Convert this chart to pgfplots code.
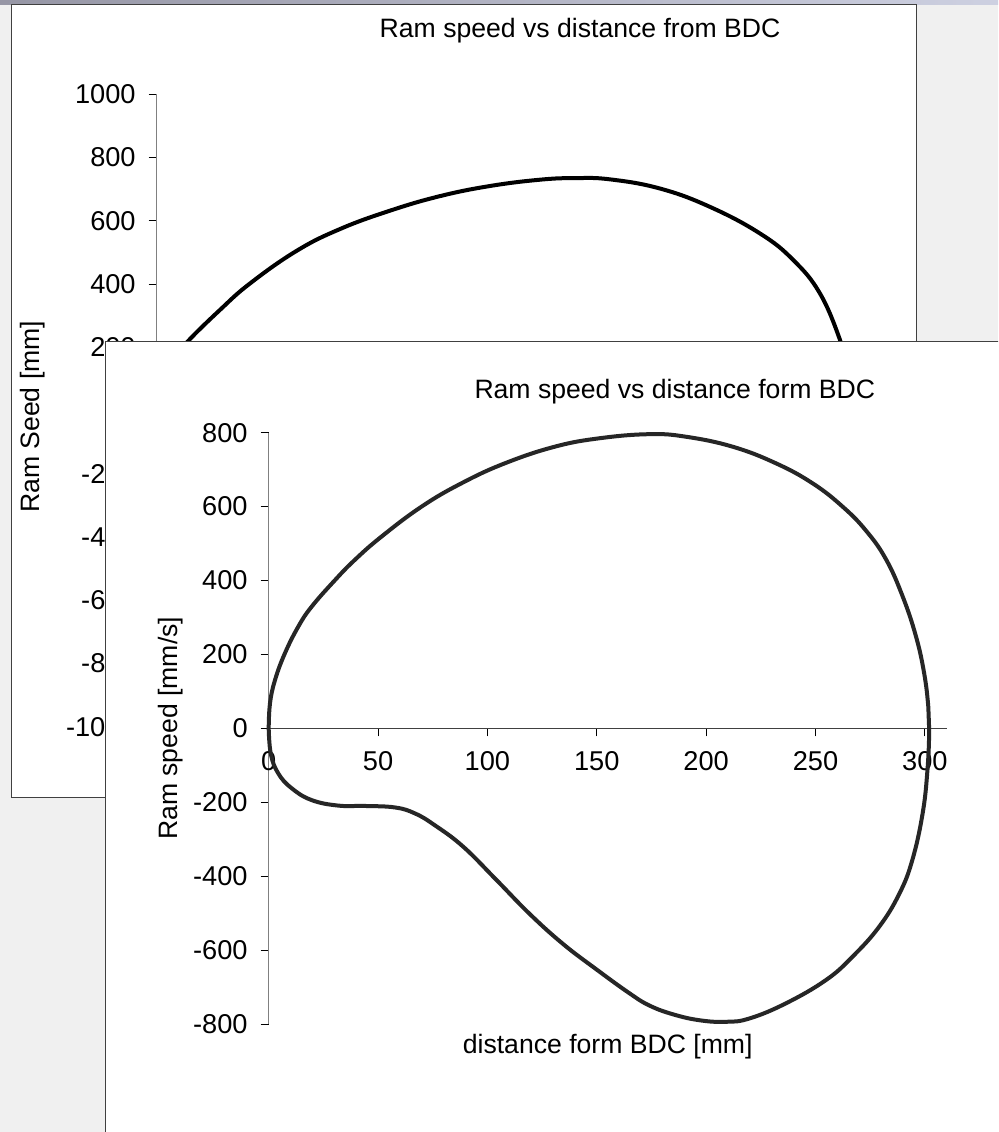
\documentclass[border=0pt]{standalone}
\usepackage{fontspec}
\setmainfont{Liberation Sans}
\usepackage{pgfplots}
\pgfplotsset{compat=1.18}

\definecolor{bggray}{HTML}{F0F0F0}
\definecolor{framegray}{HTML}{404040}
\definecolor{axisgray}{HTML}{808080}
\definecolor{curvefront}{HTML}{262626}

% back chart, only the part above the front window is visible
\pgfplotstableread{
x y
10.0 180
14.0 220
28.1 318
41.5 402
62.2 505
81.5 574
103.7 632
125.9 678
148.1 710
170.4 730
186.0 735
201.5 731
223.7 702
245.9 644
268.1 560
282.9 476
294.8 370
303.7 223
306.0 150
}\backdata

% front chart: closed loop, ram speed vs distance
\pgfplotstableread{
x y
0.0 0
0.6 68
2.9 131
7.4 203
13.5 275
19.6 329
30.3 401
39.4 456
51.6 519
69.9 600
88.1 663
107.9 717
130.7 762
151.3 785
174.1 796
190.9 789
212.2 762
232.0 717
248.7 663
262.4 600
273.1 535
282.2 458
289.8 358
295.9 250
299.7 149
301.6 58
302.0 -5
301.2 -113
299.0 -230
294.3 -356
288.3 -448
279.1 -537
266.9 -618
254.8 -681
236.5 -744
219.8 -785
209.1 -794
197.2 -790
185.0 -774
174.1 -750
165.0 -717
149.8 -652
134.5 -583
119.3 -502
104.1 -410
88.9 -320
75.9 -262
66.8 -230
57.7 -214
44.0 -210
31.8 -209
19.6 -194
10.5 -162
4.4 -122
1.0 -70
0.0 0
}\frontdata

\tikzset{
  chartfont/.style={font=\fontsize{13.3}{16}\selectfont},
  tickfont/.style={font=\fontsize{13.6}{16}\selectfont},
}

\pgfplotsset{
  excelchart/.style={
    scale only axis,
    clip=false,
    axis x line*=middle,
    axis y line*=left,
    hide obscured x ticks=false,
    hide obscured y ticks=false,
    tick align=outside,
    major tick length=4pt,
    tick style={black, line width=0.5pt},
    x axis line style={color=framegray, line width=0.5pt},
    y axis line style={color=axisgray, line width=0.5pt},
    /pgf/number format/assume math mode=true,
    /pgf/number format/1000 sep={},
    tick label style={tickfont},
  },
}

\begin{document}
\begin{tikzpicture}
\useasboundingbox (0,0) rectangle (499pt,-566pt);
\clip (0,0) rectangle (499pt,-566pt);

\begin{scope}[x=0.5pt, y=-0.5pt]
  \fill[bggray] (0,0) rectangle (998,1132);
  \shade[left color={rgb,255:red,150;green,150;blue,165}, right color={rgb,255:red,205;green,208;blue,225}] (0,0) rectangle (998,4);
  \filldraw[fill=white, draw=framegray, line width=0.5pt] (11.5,4.5) rectangle (916.5,797.5);
\end{scope}

% back window chart
\begin{axis}[
  excelchart,
  at={(78.35pt,-363.35pt)}, anchor=south west,
  width=360pt, height=316.2pt,
  xmin=0, xmax=320, ymin=-1000, ymax=1000,
  xtick=\empty,
  ytick={-1000,-800,...,1000},
  title={Ram speed vs distance from BDC},
  every axis title/.style={at={(axis description cs:0.588,1.10)}, anchor=center, chartfont},
  ylabel={Ram Seed [mm]},
  every axis y label/.style={at={(axis description cs:-0.173,0.49)}, rotate=90, anchor=center, chartfont},
  yticklabel style={xshift=-3pt},
]
\addplot[black, line width=2pt, smooth, tension=0.7] table[x=x, y=y] {\backdata};
\end{axis}

\begin{scope}[x=0.5pt, y=-0.5pt]
  \filldraw[fill=white, draw=framegray, line width=0.5pt] (105.5,341.5) rectangle (1100,1200);
\end{scope}

% front window chart
\begin{axis}[
  excelchart,
  at={(134.35pt,-512pt)}, anchor=south west,
  width=339pt, height=295.65pt,
  xmin=0, xmax=310, ymin=-800, ymax=800,
  xtick={0,50,...,300},
  ytick={-800,-600,...,800},
  title={Ram speed vs distance form BDC},
  every axis title/.style={at={(axis description cs:0.599,1.069)}, anchor=center, chartfont},
  xlabel={distance form BDC [mm]},
  every axis x label/.style={at={(axis description cs:0.5,-0.039)}, anchor=center, chartfont},
  ylabel={Ram speed [mm/s]},
  every axis y label/.style={at={(axis description cs:-0.144,0.5)}, rotate=90, anchor=center, chartfont},
  yticklabel style={xshift=-3pt},
  xticklabel style={yshift=-4pt},
]
\addplot[curvefront, line width=2pt, smooth, tension=0.7] table[x=x, y=y] {\frontdata};
\end{axis}
\end{tikzpicture}
\end{document}
